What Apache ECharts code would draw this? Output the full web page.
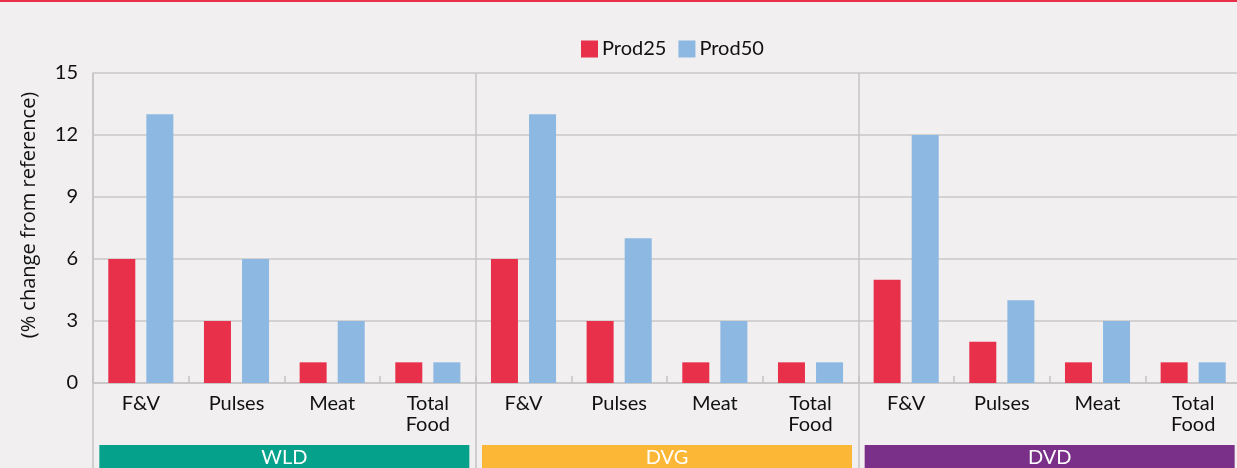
<!DOCTYPE html>
<html>
<head>
<meta charset="utf-8">
<script src="https://cdn.jsdelivr.net/npm/echarts@6/dist/echarts.min.js"></script>
<style>
  html, body { margin: 0; padding: 0; background: #f1eff0; }
  #chart { width: 1237px; height: 468px; }
</style>
</head>
<body>
<div id="chart"></div>
<script>
// Regions and the food groups shown within each region
const regions = ['WLD', 'DVG', 'DVD'];
const regionColors = ['#06a18a', '#fbb735', '#7a3089'];
const foodGroups = ['F&V', 'Pulses', 'Meat', 'Total\nFood'];

// % change from reference, per region in order WLD, DVG, DVD
const prod25 = [6, 3, 1, 1,   6, 3, 1, 1,   5, 2, 1, 1];
const prod50 = [13, 6, 3, 1,  13, 7, 3, 1,  12, 4, 3, 1];

const yTicks = { min: 0, max: 15, interval: 3 };

const categories = [];
regions.forEach(() => foodGroups.forEach(f => categories.push(f)));

const FONT = 'Lato';
const gridColor = '#d3d1d2';
const axisColor = '#c6c4c5';

const chart = echarts.init(document.getElementById('chart'));

const regionRich = {};
regions.forEach((r, i) => {
  regionRich['r' + i] = {
    backgroundColor: regionColors[i],
    color: '#ffffff',
    width: 370,
    height: 26,
    lineHeight: 26,
    align: 'center',
    fontSize: 20,
    fontFamily: FONT
  };
});

chart.setOption({
  backgroundColor: '#f1eff0',
  animation: false,
  graphic: [{
    type: 'rect',
    shape: { x: 0, y: 0, width: 1237, height: 2 },
    style: { fill: '#e8304a' }
  }],
  legend: {
    top: 34,
    left: 576,
    itemWidth: 17,
    itemHeight: 17,
    itemGap: 12,
    icon: 'rect',
    textStyle: { fontFamily: FONT, fontSize: 20, color: '#111', padding: [0, 0, 0, -1] },
    data: ['Prod25', 'Prod50']
  },
  grid: { left: 93, right: -4, top: 73, bottom: 85, containLabel: false, outerBoundsMode: 'none' },
  xAxis: [{
    type: 'category',
    data: categories,
    position: 'bottom',
    axisLine: { show: true, lineStyle: { color: axisColor, width: 1.5 } },
    axisTick: { show: true, inside: true, length: 7, lineStyle: { color: axisColor, width: 1.5 } },
    axisLabel: {
      interval: 0,
      margin: 10,
      color: '#111',
      fontFamily: FONT,
      fontSize: 20,
      lineHeight: 21
    }
  }, {
    type: 'category',
    data: regions,
    position: 'bottom',
    axisLine: { show: false },
    axisTick: { show: true, length: 85, interval: 0, lineStyle: { color: axisColor, width: 1.5 } },
    splitLine: { show: true, interval: 0, lineStyle: { color: axisColor, width: 1.5 } },
    axisLabel: {
      interval: 0,
      margin: 62,
      formatter: (v, i) => '{r' + i + '|' + v + '}',
      rich: regionRich
    }
  }],
  yAxis: {
    type: 'value',
    min: yTicks.min,
    max: yTicks.max,
    interval: yTicks.interval,
    name: '(% change from reference)',
    nameLocation: 'middle',
    nameGap: 54,
    nameTextStyle: { fontFamily: 'Open Sans', fontSize: 20, color: '#111', padding: [0, 0, 0, 26] },
    axisLine: { show: true, lineStyle: { color: axisColor, width: 1.5 } },
    axisTick: { show: false },
    axisLabel: { margin: 15, color: '#111', fontFamily: FONT, fontSize: 20 },
    splitLine: { lineStyle: { color: gridColor, width: 2 } }
  },
  series: [{
    name: 'Prod25',
    type: 'bar',
    data: prod25,
    barWidth: 27,
    barGap: '41%',
    itemStyle: { color: '#e8304a' }
  }, {
    name: 'Prod50',
    type: 'bar',
    data: prod50,
    barWidth: 27,
    itemStyle: { color: '#8cb8e2' }
  }]
});
</script>
</body>
</html>
